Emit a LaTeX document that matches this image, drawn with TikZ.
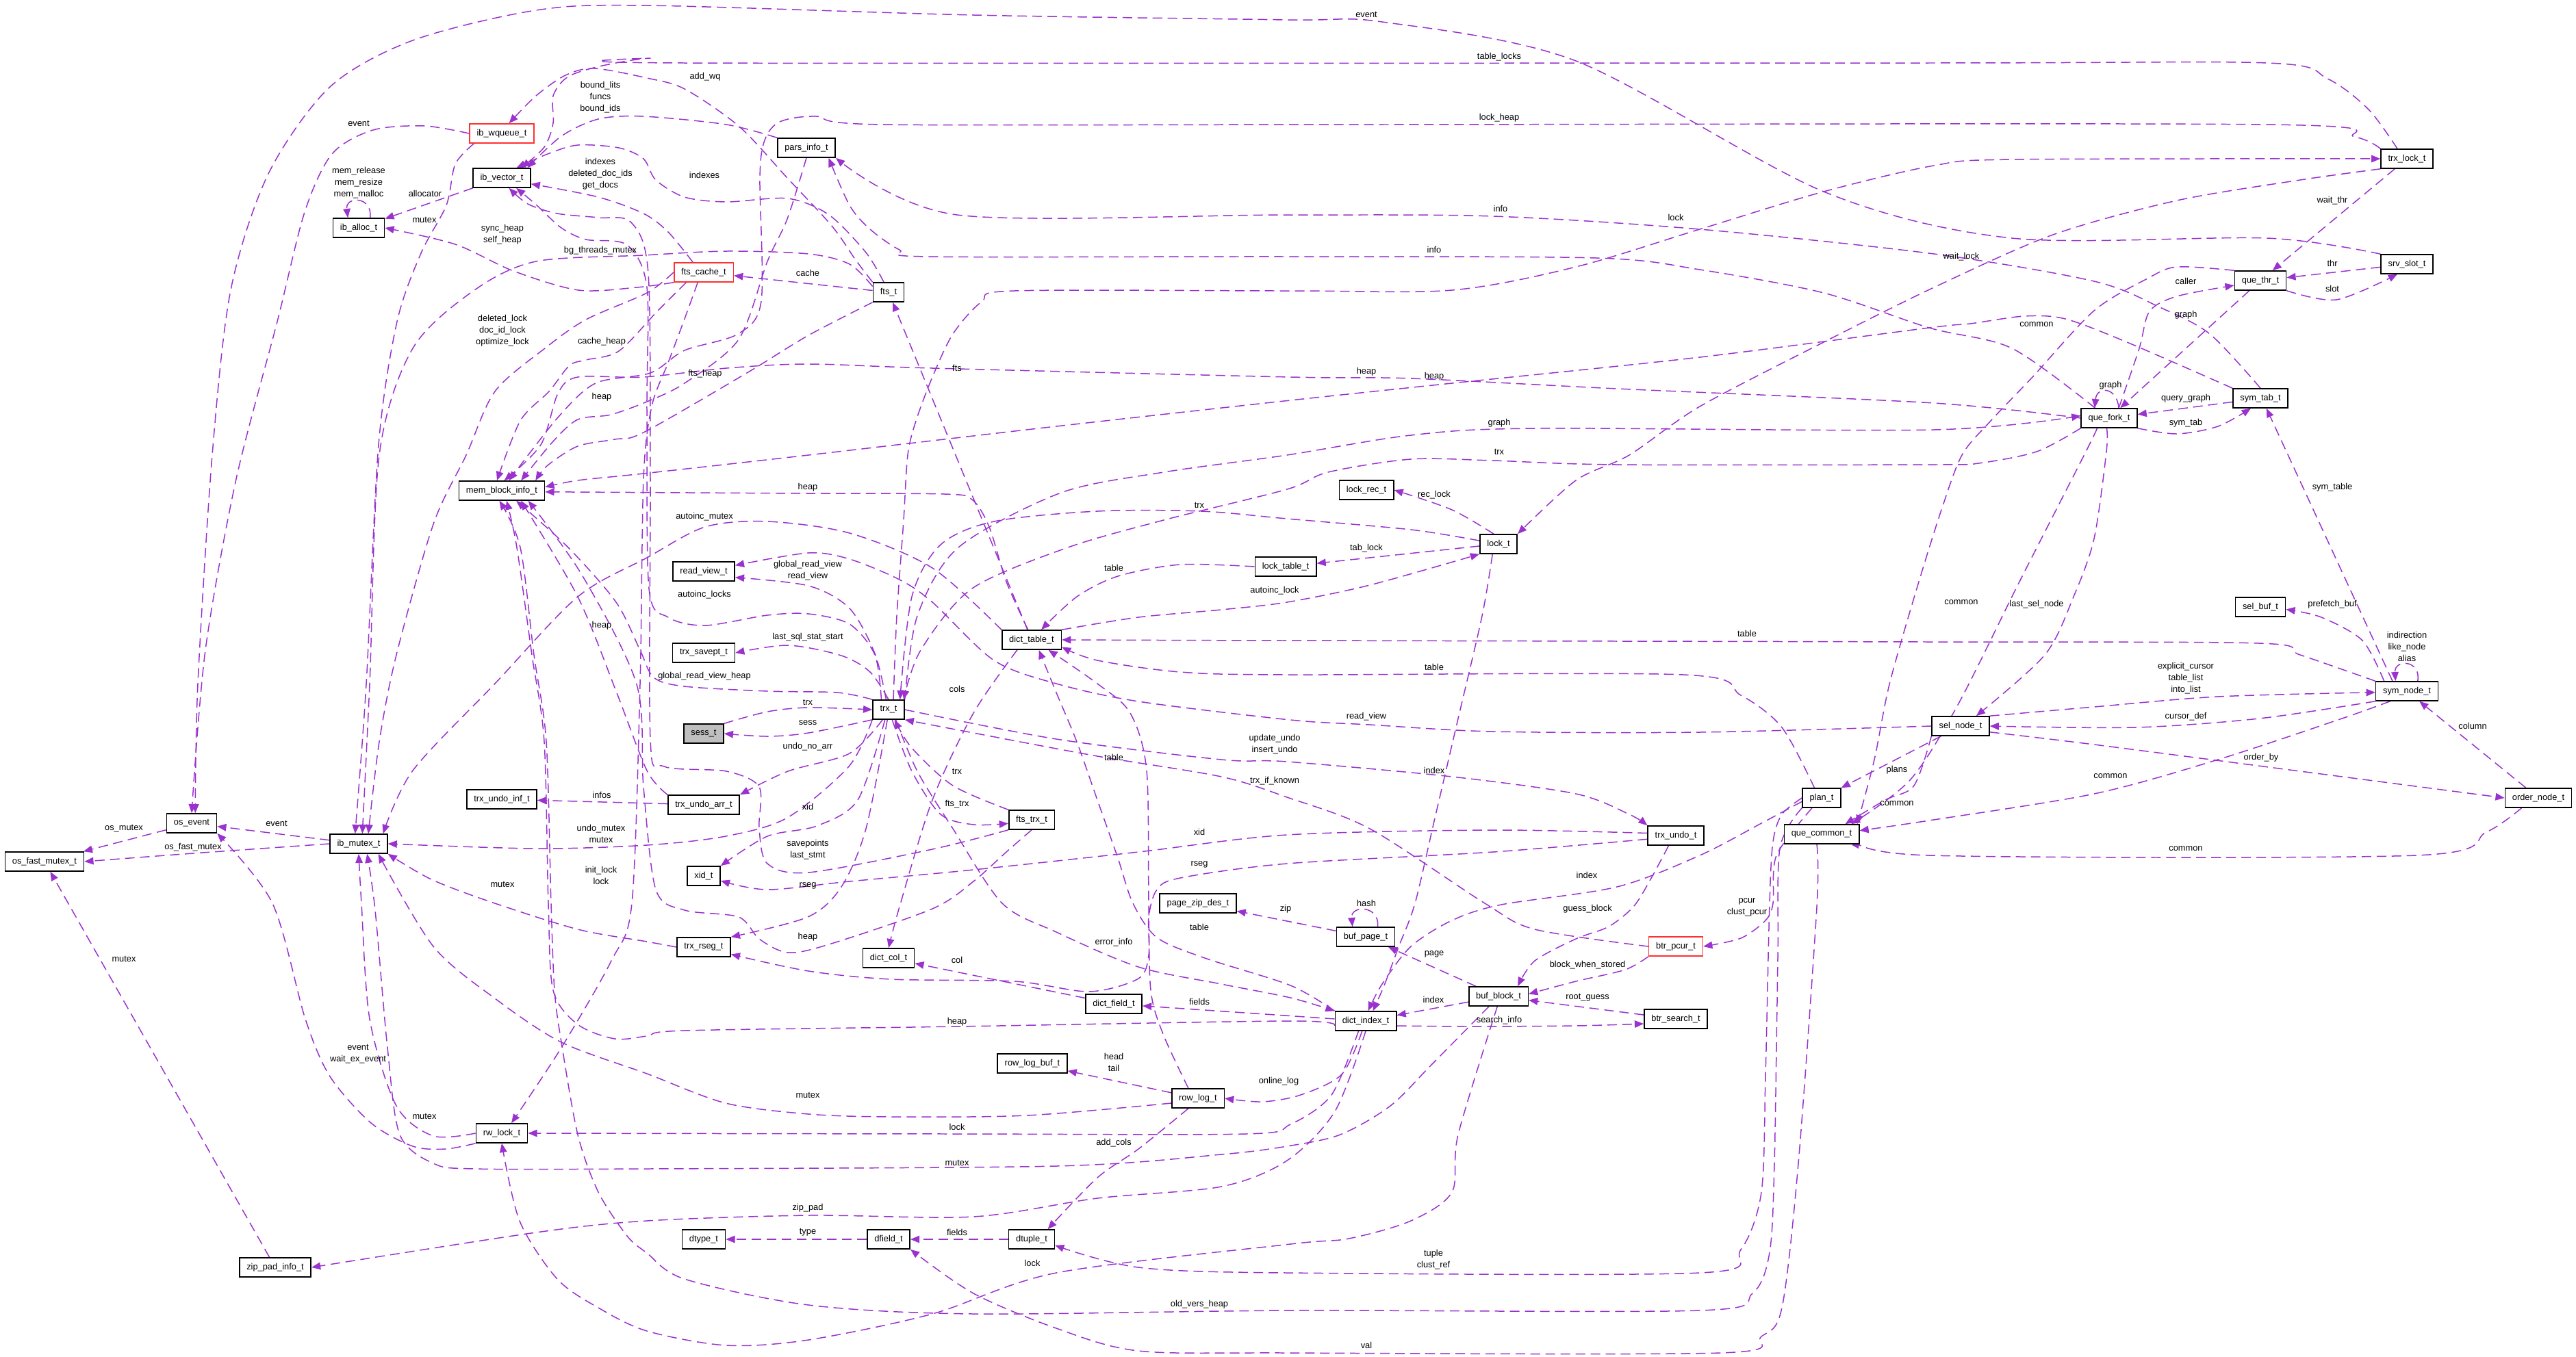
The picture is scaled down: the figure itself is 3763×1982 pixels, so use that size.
\documentclass[tikz,border=0pt]{standalone}
\usepackage{fontspec}
\setmainfont{Liberation Sans}
\usetikzlibrary{arrows.meta,backgrounds}
\definecolor{collabedge}{HTML}{9A32CD}
\definecolor{collabborder}{HTML}{000000}
\definecolor{collabpartial}{HTML}{FF3030}
\definecolor{collabfocus}{HTML}{BFBFBF}
\tikzset{
  collab struct/.style={
    rectangle, draw=collabborder, fill=white, line width=0.9pt,
    minimum height=0.56cm, inner xsep=0.21cm, inner ysep=0pt,
    font=\fontsize{7.3}{9}\selectfont
  },
  collab partial/.style={collab struct, draw=collabpartial},
  collab focus/.style={collab struct, fill=collabfocus},
  collab use/.style={
    draw=collabedge, line width=0.85pt, dash pattern=on 8pt off 4.5pt,
    -{Triangle[length=7.5pt,width=6pt]}
  },
  collab label/.style={
    font=\fontsize{7.3}{9.7}\selectfont, align=center, inner sep=0pt
  }
}
\begin{document}
\begin{tikzpicture}[x=0.02cm,y=-0.02cm]
  \useasboundingbox (0,0) rectangle (3763,1982);

  % structs, placed on the pixel grid of the collaboration graph
  \node[collab partial] (wqueue) at (733,195) {ib\_wqueue\_t};
  \node[collab struct] (vect) at (733,260) {ib\_vector\_t};
  \node[collab struct] (alloc) at (524,333) {ib\_alloc\_t};
  \node[collab struct] (parsinfo) at (1178,216) {pars\_info\_t};
  \node[collab partial] (ftscache) at (1028,398) {fts\_cache\_t};
  \node[collab struct] (fts) at (1298,427) {fts\_t};
  \node[collab struct] (trxlock) at (3516,232) {trx\_lock\_t};
  \node[collab struct] (srvslot) at (3516,386) {srv\_slot\_t};
  \node[collab struct] (quethr) at (3302,410) {que\_thr\_t};
  \node[collab struct] (symtab) at (3302,582) {sym\_tab\_t};
  \node[collab struct] (quefork) at (3081,611) {que\_fork\_t};
  \node[collab struct] (memblock) at (733,717) {mem\_block\_info\_t};
  \node[collab struct] (undoinf) at (733,1168) {trx\_undo\_inf\_t};
  \node[collab struct] (osevent) at (280,1203) {os\_event};
  \node[collab struct] (mutex) at (524,1233) {ib\_mutex\_t};
  \node[collab struct] (osfast) at (65,1259) {os\_fast\_mutex\_t};
  \node[collab struct] (readview) at (1028,835) {read\_view\_t};
  \node[collab struct] (savept) at (1028,954) {trx\_savept\_t};
  \node[collab focus] (sess) at (1028,1072) {sess\_t};
  \node[collab struct] (undoarr) at (1028,1176) {trx\_undo\_arr\_t};
  \node[collab struct] (xid) at (1028,1280) {xid\_t};
  \node[collab struct] (trx) at (1298,1037) {trx\_t};
  \node[collab struct] (dicttable) at (1507,935) {dict\_table\_t};
  \node[collab struct] (ftstrx) at (1507,1198) {fts\_trx\_t};
  \node[collab struct] (pagezip) at (1750,1320) {page\_zip\_des\_t};
  \node[collab struct] (locktable) at (1878,828) {lock\_table\_t};
  \node[collab struct] (lockrec) at (1996,716) {lock\_rec\_t};
  \node[collab struct] (lock) at (2189,795) {lock\_t};
  \node[collab struct] (plan) at (2661,1166) {plan\_t};
  \node[collab struct] (quecommon) at (2661,1219) {que\_common\_t};
  \node[collab struct] (trxundo) at (2448,1221) {trx\_undo\_t};
  \node[collab struct] (selbuf) at (3302,887) {sel\_buf\_t};
  \node[collab struct] (symnode) at (3516,1010) {sym\_node\_t};
  \node[collab struct] (selnode) at (2864,1061) {sel\_node\_t};
  \node[collab struct] (ordernode) at (3708,1166) {order\_node\_t};
  \node[collab struct] (rwlock) at (733,1656) {rw\_lock\_t};
  \node[collab struct] (zippad) at (402,1852) {zip\_pad\_info\_t};
  \node[collab struct] (rseg) at (1028,1384) {trx\_rseg\_t};
  \node[collab struct] (dictcol) at (1298,1400) {dict\_col\_t};
  \node[collab struct] (dictfield) at (1627,1467) {dict\_field\_t};
  \node[collab struct] (rowlogbuf) at (1508,1554) {row\_log\_buf\_t};
  \node[collab struct] (rowlog) at (1750,1605) {row\_log\_t};
  \node[collab struct] (dtype) at (1028,1811) {dtype\_t};
  \node[collab struct] (dfield) at (1298,1811) {dfield\_t};
  \node[collab struct] (dtuple) at (1507,1811) {dtuple\_t};
  \node[collab struct] (bufpage) at (1995,1369) {buf\_page\_t};
  \node[collab partial] (btrpcur) at (2448,1383) {btr\_pcur\_t};
  \node[collab struct] (bufblock) at (2189,1456) {buf\_block\_t};
  \node[collab struct] (dictindex) at (1995,1492) {dict\_index\_t};
  \node[collab struct] (btrsearch) at (2448,1489) {btr\_search\_t};

  % usage edges run behind the boxes
  \begin{scope}[on background layer]
    % os and sync primitives
    \draw[collab use] (vect) -- (alloc);
    \draw[collab use] ([xshift=9.5pt]alloc.north) .. controls +(4,-32) and +(-4,-32) .. ([xshift=-9pt]alloc.north);
    \draw[collab use] plot[smooth] coordinates {(ftscache.south west) (930,420) (845,424) (750,396) (665,357) (alloc.east)};
    \draw[collab use] plot[smooth] coordinates {(wqueue.west) (620,184) (545,190) (485,225) (445,310) (405,470) (345,700) (300,950) (osevent.north)};
    \draw[collab use] plot[smooth] coordinates {([xshift=4pt]wqueue.south west) (665,240) (652,300) (615,370) (580,470) (553,650) (535,1000) ([xshift=-3pt]mutex.north)};
    \draw[collab use] plot[smooth] coordinates {(srvslot.north west) (3312,348) (2939,348) (2664,280) (2302,89) (2019,32) (1880,29) (1422,22) (945,8) (783,15) (603,59) (482,127) (392,254) (337,424) (310,665) (289,999) ([xshift=3pt]osevent.north)};
    \draw[collab use] (mutex) -- (osevent);
    \draw[collab use] plot[smooth] coordinates {(mutex.west) (282,1247) (osfast.east)};
    \draw[collab use] (osevent) -- (osfast);
    \draw[collab use] (zippad) -- (osfast);
    \draw[collab use] plot[smooth] coordinates {(rwlock.south west) (651,1679) (603,1675) (542,1641) (482,1573) (446,1489) (398,1320) (osevent.south east)};
    \draw[collab use] plot[smooth] coordinates {(rwlock.west) (633,1660) (579,1616) (540,1489) (528,1320) (mutex.south)};
    \draw[collab use] plot[smooth] coordinates {(rseg.west) (945,1376) (844,1358) (717,1318) (630,1285) (mutex.south east)};

    % vectors and heaps
    \draw[collab use] plot[smooth] coordinates {([xshift=-8pt]trxlock.north) (3460,160) (3400,115) (3312,92) (2800,92) (1000,92) (950,85) (880,96) (830,112) (808,140) (808,180) (795,215) ([xshift=-8pt]vect.north east)};
    \draw[collab use] plot[smooth] coordinates {(trxlock.north west) (3440,200) (3312,182) (2000,182) (1290,182) (1193,170) (1139,178) (1117,205) (1110,260) (1112,440) (1078,488) (1000,512) (950,545) (870,560) (815,610) ([xshift=6pt]memblock.north)};
    \draw[collab use] plot[smooth] coordinates {(parsinfo.north west) (1061,182) (940,170) (874,174) (820,199) ([xshift=-3pt]vect.north east)};
    \draw[collab use] plot[smooth] coordinates {([xshift=-9pt]ftscache.north) (976,339) (940,312) (874,288) ([yshift=-5pt]vect.east)};
    \draw[collab use] plot[smooth] coordinates {([xshift=-4pt]fts.north) (1265,369) (1211,314) (1151,290) (1061,295) (1000,288) (958,263) (940,232) (904,216) (844,212) (800,225) ([xshift=-12pt]vect.north east)};
    \draw[collab use] plot[smooth] coordinates {(fts.north west) (1250,380) (1215,330) (1150,260) (1080,185) (1000,130) (945,114) (868,100) (826,110) (783,140) ([xshift=6pt]wqueue.north)};
    \draw[collab use] (fts) -- (ftscache);
    \draw[collab use] plot[smooth] coordinates {(fts.160) (1241,386) (1181,371) (1061,367) (940,373) (783,382) (693,424) (603,509) (554,665) (540,1000) ([xshift=3pt]mutex.north)};
    \draw[collab use] plot[smooth] coordinates {(fts.south west) (1181,490) (1091,545) (940,632) (898,642) (844,652) (800,680) ([xshift=-8pt]memblock.north east)};
    \draw[collab use] (dicttable) -- (fts);
    \draw[collab use] plot[smooth] coordinates {(symtab.north) (3228,488) (3155,449) (3059,411) (2825,371) (2483,335) (2181,316) (1880,314) (1398,314) (parsinfo.south east)};
    \draw[collab use] plot[smooth] coordinates {([xshift=12pt]quefork.north west) (2939,509) (2818,479) (2664,428) (2483,394) (2332,377) (1880,375) (1356,375) (1314,365) (1271,335) (1241,300) ([xshift=-6pt]parsinfo.south east)};
    \draw[collab use] plot[smooth] coordinates {(symtab.north west) (3107,500) (3017,466) (2957,462) (2878,473) (2818,479) (2483,522) (2121,560) (1885,585) (1543,623) (1181,665) (940,692) (844,702) ([yshift=3pt]memblock.east)};
    \draw[collab use] plot[smooth] coordinates {(quefork.west) (2825,589) (2362,568) (2061,553) (1885,551) (1362,538) (1181,532) (1061,538) (940,551) (844,551) (815,575) (790,650) ([xshift=2pt]memblock.north)};
    \draw[collab use] plot[smooth] coordinates {(ftscache.-150) (960,455) (904,513) (856,526) (832,534) (802,572) (760,615) ([xshift=-4pt]memblock.north)};
    \draw[collab use] plot[smooth] coordinates {(parsinfo.south) (1150,320) (1121,382) (1079,496) (1000,560) (945,587) (892,606) (844,613) (808,645) ([xshift=-20pt]memblock.north east)};
    \draw[collab use] plot[smooth] coordinates {([xshift=-3pt]dicttable.north) (1470,850) (1445,770) (1420,730) (1380,722) (1181,721) ([yshift=-1pt]memblock.east)};
    \draw[collab use] plot[smooth] coordinates {(dicttable.north west) (1362,830) (1241,779) (1121,762) (1030,770) (945,815) (844,872) (723,999) (603,1126) ([xshift=-4pt]mutex.north east)};
    \draw[collab use] plot[smooth] coordinates {(ftscache.west) (945,428) (856,467) (796,509) (723,572) (681,665) (633,766) (579,957) (554,1084) ([xshift=8pt]mutex.north)};
    \draw[collab use] plot[smooth] coordinates {([xshift=-5pt]ftscache.south) (1000,466) (976,530) (952,594) (940,700) (935,1000) (923,1320) (893,1404) (820,1531) ([xshift=8pt]rwlock.north)};

    % transaction
    \draw[collab use] plot[smooth] coordinates {(sess.north east) (1121,1040) (1181,1034) (trx.west)};
    \draw[collab use] plot[smooth] coordinates {(trx.south west) (1181,1071) (1121,1076) (sess.east)};
    \draw[collab use] plot[smooth] coordinates {(trx.south west) (1240,1120) (1150,1195) (1060,1222) (945,1235) (783,1240) (mutex.east)};
    \draw[collab use] plot[smooth] coordinates {([xshift=-2pt]trx.north) (1278,955) (1241,889) (1181,856) ([yshift=-5pt]readview.east)};
    \draw[collab use] plot[smooth] coordinates {(trx.north) (1271,982) (1229,958) (1151,943) (savept.east)};
    \draw[collab use] plot[smooth] coordinates {([xshift=-6pt]trx.north) (1278,957) (1241,912) (1181,897) (1121,899) (1030,914) (976,902) (948,860) (945,600) (945,420) (916,358) (856,350) (820,333) (783,299) ([xshift=12pt]vect.south)};
    \draw[collab use] plot[smooth] coordinates {(trx.north west) (1223,1012) (1121,1010) (1000,1003) (955,990) (935,950) (900,880) (830,800) ([xshift=12pt]memblock.south)};
    \draw[collab use] plot[smooth] coordinates {([xshift=-5pt]trx.south) (1241,1101) (1151,1127) (undoarr.north east)};
    \draw[collab use] plot[smooth] coordinates {([xshift=-3pt]trx.south) (1253,1169) (1193,1207) (1121,1222) (xid.north east)};
    \draw[collab use] plot[smooth] coordinates {([xshift=-1pt]trx.south) (1265,1211) (1229,1296) (1180,1340) (rseg.north east)};
    \draw[collab use] (undoarr) -- (undoinf);
    \draw[collab use] plot[smooth] coordinates {(undoarr.north west) (945,1126) (900,1010) (844,872) ([xshift=16pt]memblock.south)};
    \draw[collab use] plot[smooth] coordinates {(ftstrx.north west) (1392,1148) (1332,1093) ([xshift=5pt]trx.south)};
    \draw[collab use] plot[smooth] coordinates {([xshift=3pt]trx.south) (1332,1127) (1374,1190) (1422,1205) ([yshift=-3pt]ftstrx.west)};
    \draw[collab use] plot[smooth] coordinates {(ftstrx.south west) (1362,1241) (1181,1275) (1121,1262) (1109,1211) (1109,1150) (1061,1127) (970,1120) (950,1080) (950,700) (947,400) (922,325) (874,318) (814,312) (771,298) ([xshift=6pt]vect.south)};
    \draw[collab use] plot[smooth] coordinates {(ftstrx.south) (1470,1245) (1422,1288) (1362,1328) (1211,1380) (1151,1392) (1109,1372) (1079,1340) (1000,1330) (958,1300) (940,1150) (930,1000) (850,840) ([xshift=22pt]memblock.south)};
    \draw[collab use] plot[smooth] coordinates {(lock.170) (2061,774) (1880,758) (1754,747) (1603,747) (1452,762) (1374,796) (1332,872) ([xshift=-4pt]trx.north east)};
    \draw[collab use] plot[smooth] coordinates {(quefork.south west) (2975,660) (2890,677) (2825,679) (2362,679) (2181,673) (2061,671) (1940,690) (1880,715) (1700,760) (1560,800) (1420,860) (1345,950) ([xshift=-1pt]trx.north east)};
    \draw[collab use] plot[smooth] coordinates {(trx.north east) (1340,900) (1400,800) (1550,720) (1700,690) (1880,665) (2061,636) (2242,626) (2825,628) ([yshift=2pt]quefork.west)};
    \draw[collab use] plot[smooth] coordinates {([xshift=4pt]trx.north) (1310,900) (1320,760) (1326,665) (1338,615) (1362,551) (1392,488) (1434,441) (1482,425) (1885,425) (2121,424) (2302,390) (2483,335) (2664,280) (2825,242) (2940,233) (trxlock.west)};

    % locks and query graph
    \draw[collab use] plot[smooth] coordinates {(trxlock.south west) (3360,263) (3180,293) (2999,343) (2825,420) (2664,500) (2483,594) (2380,665) (2302,702) (lock.north east)};
    \draw[collab use] (trxlock) -- (quethr);
    \draw[collab use] (srvslot) -- (quethr);
    \draw[collab use] plot[smooth] coordinates {(quethr.south east) (3413,438) ([xshift=-8pt]srvslot.south)};
    \draw[collab use] plot[smooth] coordinates {([xshift=8pt]quefork.north) (3125,509) (3140,455) (3180,433) ([yshift=-4pt]quethr.west)};
    \draw[collab use] (quethr) -- (quefork);
    \draw[collab use] ([xshift=8pt]quefork.north) .. controls +(-3,-32) and +(3,-32) .. ([xshift=-12pt]quefork.north);
    \draw[collab use] (symtab) -- (quefork);
    \draw[collab use] plot[smooth] coordinates {(quefork.south east) (3180,634) (3240,623) ([xshift=-8pt]symtab.south)};
    \draw[collab use] plot[smooth] coordinates {(quethr.north west) (3180,390) (3137,407) (3059,454) (2969,551) (2908,615) (2866,665) (2836,745) (2800,860) (2760,1000) (2738,1110) ([xshift=-2pt]quecommon.north east)};
    \draw[collab use] plot[smooth] coordinates {([xshift=-10pt]quefork.south) (3047,660) (2950,850) (2860,1030) (2790,1140) ([xshift=-7pt]quecommon.north east)};
    \draw[collab use] plot[smooth] coordinates {([xshift=-2pt]quefork.south) (3077,660) (3059,787) (3029,872) (2987,957) ([xshift=13pt]selnode.north)};
    \draw[collab use] ([xshift=-12pt]symnode.north) -- ([xshift=5pt]symtab.south);
    \draw[collab use] ([xshift=9pt]symnode.north) .. controls +(5,-32) and +(-2,-32) .. ([xshift=-9.5pt]symnode.north);
    \draw[collab use] plot[smooth] coordinates {([xshift=-19pt]symnode.north) (3451,936) (3391,902) ([yshift=-2pt]selbuf.east)};
    \draw[collab use] plot[smooth] coordinates {(symnode.north west) (3360,957) (3300,940) (2818,938) (1880,936) (dicttable.east)};
    \draw[collab use] plot[smooth] coordinates {([xshift=-6pt]plan.north) (2603,1063) (2543,1016) (2459,986) (1880,986) (1724,982) (1603,965) ([yshift=-6pt]dicttable.east)};
    \draw[collab use] plot[smooth] coordinates {(selnode.west) (2483,1070) (2181,1069) (2000,1059) (1885,1052) (1663,1025) (1543,999) (1452,965) (1362,880) (1314,847) (1241,817) (1181,808) ([yshift=5pt]readview.east)};
    \draw[collab use] plot[smooth] coordinates {(locktable.west) (1724,825) (1633,842) (1573,872) ([xshift=8pt]dicttable.north)};
    \draw[collab use] (lock) -- (locktable);
    \draw[collab use] plot[smooth] coordinates {([xshift=-4pt]lock.north) (2121,745) (lockrec.east)};
    \draw[collab use] plot[smooth] coordinates {(dicttable.north east) (1663,902) (1784,891) (1880,880) (2001,855) (lock.south west)};
    \draw[collab use] plot[smooth] coordinates {([xshift=-5pt]lock.south) (2165,900) (2130,1050) (2095,1200) (2067,1320) (2043,1384) (2022,1440) ([xshift=6pt]dictindex.north)};
    \draw[collab use] plot[smooth] coordinates {(trx.east) (1543,1080) (1784,1110) (1880,1113) (2121,1135) (2302,1160) (2380,1190) (trxundo.north west)};
    \draw[collab use] plot[smooth] coordinates {(btrpcur.west) (2242,1358) (2169,1320) (2001,1211) (1880,1165) (1784,1135) (1603,1105) (1422,1071) (trx.south east)};
    \draw[collab use] plot[smooth] coordinates {([xshift=6pt]trx.south) (1340,1127) (1392,1211) (1464,1320) (1543,1362) (1663,1413) (1784,1438) (1885,1458) (dictindex.north west)};
    \draw[collab use] plot[smooth] coordinates {([yshift=2pt]trxundo.west) (2181,1213) (1880,1220) (1663,1245) (1422,1271) (1241,1288) (1121,1300) ([yshift=-4pt]xid.east)};
    \draw[collab use] plot[smooth] coordinates {([yshift=-3pt]trxundo.west) (2181,1245) (1880,1262) (1724,1283) (1690,1300) (1678,1340) (1678,1396) (1663,1430) (1591,1449) (1482,1434) (1302,1431) (1181,1419) ([yshift=-6pt]rseg.east)};

    % dictionary and buffer pool
    \draw[collab use] plot[smooth] coordinates {(dictindex.north west) (1885,1440) (1760,1400) (1690,1370) (1655,1320) (1633,1254) (1603,1169) (1573,1084) (1543,1012) ([xshift=6pt]dicttable.south)};
    \draw[collab use] plot[smooth] coordinates {([xshift=-8pt]rowlog.north) (1699,1511) (1681,1447) (1678,1320) (1675,1126) (1651,1042) (1603,999) ([xshift=14pt]dicttable.south)};
    \draw[collab use] plot[smooth] coordinates {([xshift=-12pt]dicttable.south) (1422,1042) (1362,1169) (1314,1325) (dictcol.north)};
    \draw[collab use] (dictfield) -- (dictcol);
    \draw[collab use] (dictindex) -- (dictfield);
    \draw[collab use] plot[smooth] coordinates {([yshift=-4pt]dictindex.west) (1885,1492) (1400,1500) (1000,1506) (945,1514) (898,1518) (844,1497) (808,1447) (801,1320) (795,1084) (777,957) (755,800) ([xshift=4pt]memblock.south)};
    \draw[collab use] plot[smooth] coordinates {([xshift=-3pt]dictindex.south) (1960,1570) (1900,1600) (1844,1610) (rowlog.east)};
    \draw[collab use] plot[smooth] coordinates {([xshift=-6pt]dictindex.south) (1945,1600) (1885,1643) (1820,1657) (1400,1657) (rwlock.east)};
    \draw[collab use] plot[smooth] coordinates {(dictindex.south) (1950,1624) (1880,1696) (1784,1734) (1603,1751) (1422,1778) (1181,1776) (945,1784) (783,1801) (zippad.east)};
    \draw[collab use] (bufblock) -- (dictindex);
    \draw[collab use] (btrsearch) -- (bufblock);
    \draw[collab use] plot[smooth] coordinates {([yshift=-4pt]dictindex.east) (2151,1500) (2302,1499) ([yshift=-4pt]btrsearch.west)};
    \draw[collab use] plot[smooth] coordinates {(btrpcur.south west) (2374,1417) (2302,1434) ([yshift=2pt]bufblock.east)};
    \draw[collab use] plot[smooth] coordinates {([xshift=-6pt]trxundo.south) (2410,1287) (2386,1325) (2350,1354) (2302,1372) (2242,1404) ([xshift=16pt]bufblock.north)};
    \draw[collab use] (bufblock) -- (bufpage);
    \draw[collab use] ([xshift=10pt]bufpage.north) .. controls +(3,-32) and +(-3,-32) .. ([xshift=-11pt]bufpage.north);
    \draw[collab use] (bufpage) -- (pagezip);
    \draw[collab use] plot[smooth] coordinates {([xshift=-8pt]bufblock.south) (2091,1556) (2031,1616) (1958,1658) (1880,1675) (1784,1687) (1543,1704) (945,1708) (693,1708) (633,1700) (584,1658) (566,1531) (548,1330) ([xshift=7pt]mutex.south)};
    \draw[collab use] plot[smooth] coordinates {([xshift=-1pt]bufblock.south) (2130,1658) (2121,1742) (2061,1784) (1970,1810) (1885,1818) (1543,1860) (1362,1920) (1181,1958) (1061,1966) (945,1945) (874,1911) (814,1869) (759,1784) (rwlock.south)};
    \draw[collab use] (rowlog) -- (rowlogbuf);
    \draw[collab use] plot[smooth] coordinates {([yshift=-4pt]rowlog.west) (1500,1630) (1300,1632) (1181,1628) (1060,1612) (945,1569) (820,1523) (723,1459) (633,1383) ([xshift=-8pt]mutex.south east)};
    \draw[collab use] plot[smooth] coordinates {([xshift=-8pt]rowlog.south) (1663,1679) (1603,1721) ([xshift=-6pt]dtuple.north east)};
    \draw[collab use] (dtuple) -- (dfield);
    \draw[collab use] (dfield) -- (dtype);

    % query plan and select nodes
    \draw[collab use] plot[smooth] coordinates {(plan.west) (2603,1190) (2590,1230) (2585,1320) (2579,1573) (2573,1742) (2543,1826) (2483,1860) (1880,1860) (1663,1852) ([yshift=-5pt]dtuple.east)};
    \draw[collab use] plot[smooth] coordinates {(plan.south west) (2600,1240) (2597,1400) (2592,1700) (2585,1830) (2560,1890) (2483,1915) (1885,1915) (1422,1920) (1181,1907) (1000,1869) (945,1831) (916,1806) (874,1742) (844,1658) (820,1523) (810,1447) (805,1320) (798,1084) (780,957) (760,800) ([xshift=-2pt]memblock.south)};
    \draw[collab use] plot[smooth] coordinates {([xshift=-8pt]plan.south) (2595,1250) (2590,1320) (2579,1345) (2543,1371) (btrpcur.east)};
    \draw[collab use] plot[smooth] coordinates {([yshift=-3pt]plan.west) (2573,1203) (2483,1250) (2362,1296) (2193,1322) (2121,1345) (2061,1383) (2019,1438) ([xshift=2pt]dictindex.north)};
    \draw[collab use] (selnode) -- (plan);
    \draw[collab use] plot[smooth] coordinates {(selnode.south west) (2796,1148) (2754,1169) ([xshift=-12pt]quecommon.north east)};
    \draw[collab use] plot[smooth] coordinates {([xshift=-14pt]symnode.south) (3421,1050) (3240,1110) (3059,1160) (2818,1199) ([yshift=3pt]quecommon.east)};
    \draw[collab use] plot[smooth] coordinates {([xshift=-14pt]ordernode.south) (3632,1216) (3529,1250) (2818,1250) ([yshift=-4pt]quecommon.east)};
    \draw[collab use] plot[smooth] coordinates {(selnode.north east) (3059,1033) (3240,1018) ([yshift=-1pt]symnode.west)};
    \draw[collab use] plot[smooth] coordinates {(symnode.south west) (3300,1050) (3119,1063) (selnode.east)};
    \draw[collab use] plot[smooth] coordinates {([yshift=-5pt]selnode.east) (3059,1088) (3360,1127) (ordernode.west)};
    \draw[collab use] (ordernode) -- (symnode);
    \draw[collab use] plot[smooth] coordinates {([xshift=-4pt]quecommon.south) (2654,1325) (2627,1700) (2603,1911) (2573,1953) (2513,1977) (1880,1977) (1663,1974) (1543,1941) (1422,1890) (dfield.south east)};
  \end{scope}

  % member names beside their edges
  \node[collab label] (l-allocator) at (621,283) {allocator};
  \node[collab label] (l-memfn) at (524,267) {mem\_release\\mem\_resize\\mem\_malloc};
  \node[collab label] (l-syncheap) at (734,343) {sync\_heap\\self\_heap};
  \node[collab label] (l-wqevent) at (524,180) {event};
  \node[collab label] (l-wqmutex) at (620,321) {mutex};
  \node[collab label] (l-slotevent) at (1996,21) {event};
  \node[collab label] (l-tablelocks) at (2190,83) {table\_locks};
  \node[collab label] (l-lockheap) at (2190,172) {lock\_heap};
  \node[collab label] (l-bound) at (877,142) {bound\_lits\\funcs\\bound\_ids};
  \node[collab label] (l-cacheidx) at (877,254) {indexes\\deleted\_doc\_ids\\get\_docs};
  \node[collab label] (l-ftsidx) at (1029,256) {indexes};
  \node[collab label] (l-addwq) at (1030,112) {add\_wq};
  \node[collab label] (l-cache) at (1180,399) {cache};
  \node[collab label] (l-bgmutex) at (877,366) {bg\_threads\_mutex};
  \node[collab label] (l-ftsheap) at (1030,546) {fts\_heap};
  \node[collab label] (l-fts) at (1398,538) {fts};
  \node[collab label] (l-syminfo) at (2192,305) {info};
  \node[collab label] (l-forkinfo) at (2095,365) {info};
  \node[collab label] (l-symheap) at (1996,543) {heap};
  \node[collab label] (l-forkheap) at (2095,550) {heap};
  \node[collab label] (l-cacheheap) at (879,499) {cache\_heap};
  \node[collab label] (l-parsheap) at (879,580) {heap};
  \node[collab label] (l-tableheap) at (1180,712) {heap};
  \node[collab label] (l-autoincmutex) at (1029,755) {autoinc\_mutex};
  \node[collab label] (l-undomutex) at (878,1218) {undo\_mutex\\mutex};
  \node[collab label] (l-sesstrx) at (1180,1026) {trx};
  \node[collab label] (l-sess) at (1180,1056) {sess};
  \node[collab label] (l-readview) at (1180,834) {global\_read\_view\\read\_view};
  \node[collab label] (l-savept) at (1180,931) {last\_sql\_stat\_start};
  \node[collab label] (l-autoinclocks) at (1029,869) {autoinc\_locks};
  \node[collab label] (l-grvheap) at (1029,988) {global\_read\_view\_heap};
  \node[collab label] (l-undonoarr) at (1180,1091) {undo\_no\_arr};
  \node[collab label] (l-trxxid) at (1180,1179) {xid};
  \node[collab label] (l-trxrseg) at (1180,1294) {rseg};
  \node[collab label] (l-infos) at (879,1162) {infos};
  \node[collab label] (l-undoheap) at (879,914) {heap};
  \node[collab label] (l-ftstrxtrx) at (1398,1127) {trx};
  \node[collab label] (l-ftstrx) at (1398,1175) {fts\_trx};
  \node[collab label] (l-savepoints) at (1180,1242) {savepoints\\last\_stmt};
  \node[collab label] (l-ftstrxheap) at (1180,1369) {heap};
  \node[collab label] (l-locktrx) at (1752,738) {trx};
  \node[collab label] (l-forktrx) at (2190,660) {trx};
  \node[collab label] (l-trxgraph) at (2190,618) {graph};
  \node[collab label] (l-trxlock) at (2448,318) {lock};
  \node[collab label] (l-waitlock) at (2865,375) {wait\_lock};
  \node[collab label] (l-waitthr) at (3407,293) {wait\_thr};
  \node[collab label] (l-thr) at (3407,385) {thr};
  \node[collab label] (l-slot) at (3407,422) {slot};
  \node[collab label] (l-caller) at (3193,411) {caller};
  \node[collab label] (l-thrgraph) at (3193,460) {graph};
  \node[collab label] (l-forkgraph) at (3083,563) {graph};
  \node[collab label] (l-querygraph) at (3193,582) {query\_graph};
  \node[collab label] (l-symtab) at (3193,618) {sym\_tab};
  \node[collab label] (l-thrcommon) at (2975,474) {common};
  \node[collab label] (l-forkcommon) at (2865,880) {common};
  \node[collab label] (l-lastsel) at (2975,883) {last\_sel\_node};
  \node[collab label] (l-symtable) at (3407,712) {sym\_table};
  \node[collab label] (l-indirection) at (3516,945) {indirection\\like\_node\\alias};
  \node[collab label] (l-prefetch) at (3407,883) {prefetch\_buf};
  \node[collab label] (l-symnodetable) at (2552,926) {table};
  \node[collab label] (l-plantable) at (2095,975) {table};
  \node[collab label] (l-selreadview) at (1996,1047) {read\_view};
  \node[collab label] (l-locktabletable) at (1627,830) {table};
  \node[collab label] (l-tablock) at (1996,801) {tab\_lock};
  \node[collab label] (l-reclock) at (2095,723) {rec\_lock};
  \node[collab label] (l-autoinclock) at (1862,863) {autoinc\_lock};
  \node[collab label] (l-lockindex) at (2095,1126) {index};
  \node[collab label] (l-undos) at (1862,1088) {update\_undo\\insert\_undo};
  \node[collab label] (l-trxifknown) at (1862,1141) {trx\_if\_known};
  \node[collab label] (l-errorinfo) at (1627,1377) {error\_info};
  \node[collab label] (l-undoxid) at (1752,1216) {xid};
  \node[collab label] (l-undorseg) at (1752,1263) {rseg};
  \node[collab label] (l-indextable) at (1627,1107) {table};
  \node[collab label] (l-rowlogtable) at (1752,1355) {table};
  \node[collab label] (l-cols) at (1398,1007) {cols};
  \node[collab label] (l-col) at (1398,1403) {col};
  \node[collab label] (l-indexfields) at (1752,1464) {fields};
  \node[collab label] (l-indexheap) at (1398,1493) {heap};
  \node[collab label] (l-onlinelog) at (1868,1580) {online\_log};
  \node[collab label] (l-indexlock) at (1398,1647) {lock};
  \node[collab label] (l-zippad) at (1180,1765) {zip\_pad};
  \node[collab label] (l-blockindex) at (2094,1461) {index};
  \node[collab label] (l-rootguess) at (2319,1458) {root\_guess};
  \node[collab label] (l-searchinfo) at (2190,1491) {search\_info};
  \node[collab label] (l-whenstored) at (2319,1410) {block\_when\_stored};
  \node[collab label] (l-guessblock) at (2319,1328) {guess\_block};
  \node[collab label] (l-page) at (2095,1394) {page};
  \node[collab label] (l-hash) at (1996,1320) {hash};
  \node[collab label] (l-zip) at (1878,1328) {zip};
  \node[collab label] (l-blockmutex) at (1398,1699) {mutex};
  \node[collab label] (l-blocklock) at (1508,1846) {lock};
  \node[collab label] (l-headtail) at (1627,1552) {head\\tail};
  \node[collab label] (l-rowlogmutex) at (1180,1600) {mutex};
  \node[collab label] (l-addcols) at (1627,1670) {add\_cols};
  \node[collab label] (l-tuplefields) at (1398,1801) {fields};
  \node[collab label] (l-type) at (1180,1801) {type};
  \node[collab label] (l-tuple) at (2094,1841) {tuple\\clust\_ref};
  \node[collab label] (l-oldvers) at (1752,1906) {old\_vers\_heap};
  \node[collab label] (l-pcur) at (2552,1326) {pcur\\clust\_pcur};
  \node[collab label] (l-planindex) at (2318,1279) {index};
  \node[collab label] (l-plans) at (2771,1125) {plans};
  \node[collab label] (l-selcommon) at (2771,1174) {common};
  \node[collab label] (l-symcommon) at (3083,1134) {common};
  \node[collab label] (l-ordercommon) at (3193,1240) {common};
  \node[collab label] (l-cursors) at (3193,991) {explicit\_cursor\\table\_list\\into\_list};
  \node[collab label] (l-cursordef) at (3193,1047) {cursor\_def};
  \node[collab label] (l-orderby) at (3303,1107) {order\_by};
  \node[collab label] (l-column) at (3612,1061) {column};
  \node[collab label] (l-val) at (1996,1966) {val};
  \node[collab label] (l-mutexevent) at (404,1203) {event};
  \node[collab label] (l-osfastmutex) at (282,1238) {os\_fast\_mutex};
  \node[collab label] (l-osmutex) at (181,1211) {os\_mutex};
  \node[collab label] (l-padmutex) at (181,1401) {mutex};
  \node[collab label] (l-rwevents) at (523,1540) {event\\wait\_ex\_event};
  \node[collab label] (l-rwmutex) at (620,1631) {mutex};
  \node[collab label] (l-rsegmutex) at (734,1292) {mutex};
  \node[collab label] (l-initlock) at (878,1279) {init\_lock\\lock};
  \node[collab label] (l-cachelocks) at (734,483) {deleted\_lock\\doc\_id\_lock\\optimize\_lock};
\end{tikzpicture}
\end{document}
